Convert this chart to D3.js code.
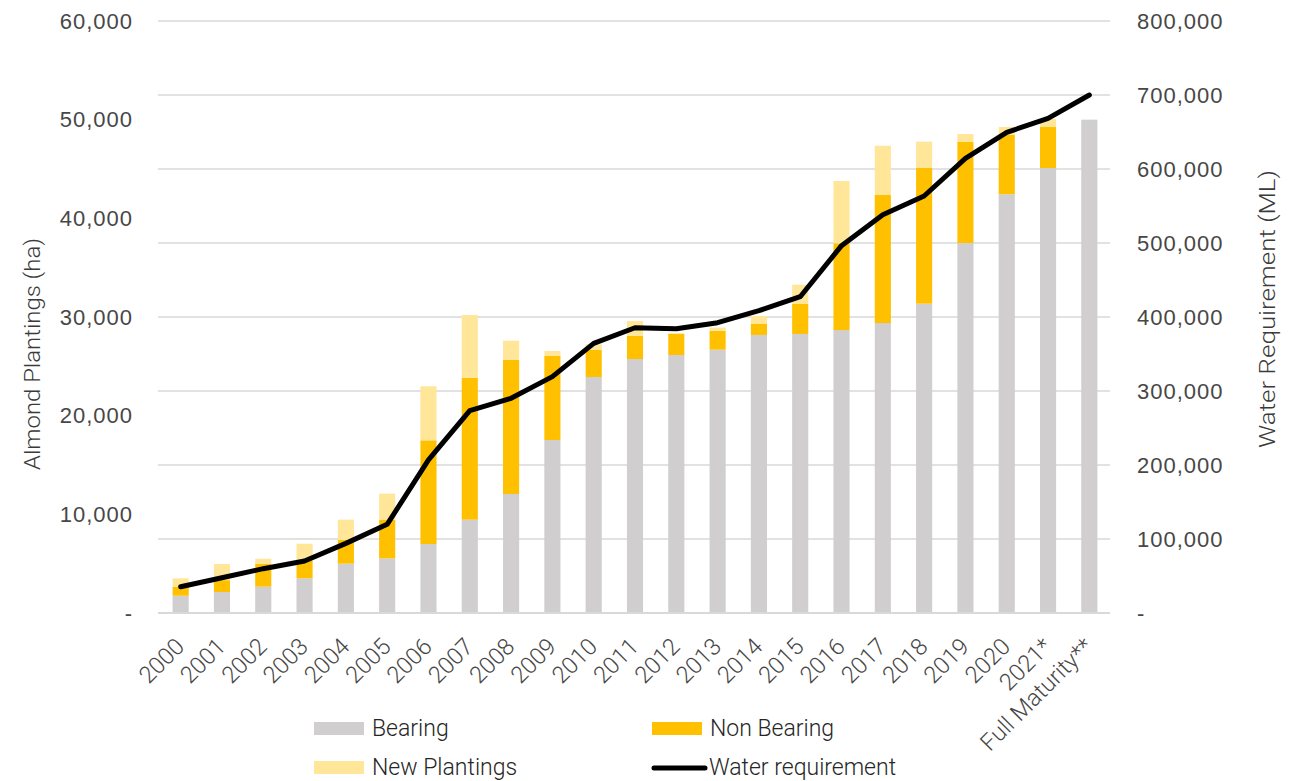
<!DOCTYPE html>
<html>
<head>
<meta charset="utf-8">
<script src="https://cdn.jsdelivr.net/npm/d3@7"></script>
<style>
  html, body { margin: 0; padding: 0; background: #ffffff; }
  svg { display: block; font-family: Roboto, "Open Sans", sans-serif; }
</style>
</head>
<body>
<svg id="chart" width="1301" height="781"></svg>
<script>
// Almond plantings by year (hectares) and annual water requirement (ML)
const categories = ["2000","2001","2002","2003","2004","2005","2006","2007","2008","2009","2010",
  "2011","2012","2013","2014","2015","2016","2017","2018","2019","2020","2021*","Full Maturity**"];
const bearing = [1750, 2130, 2670, 3520, 5000, 5540, 6990, 9460, 12060, 17530, 23920,
  25740, 26150, 26690, 28180, 28280, 28680, 29390, 31350, 37500, 42440, 45100, 50000];
const nonBearing = [910, 1200, 2300, 1750, 2400, 3885, 10510, 14390, 13610, 8520, 2770,
  2370, 2160, 1920, 1110, 3070, 8790, 12975, 13750, 10235, 6040, 4155, 0];
const newPlantings = [850, 1630, 530, 1750, 2060, 2670, 5475, 6350, 1930, 500, 540,
  1480, 0, 310, 810, 1925, 6310, 4995, 2670, 810, 775, 815, 0];
const waterRequirement = [35500, 47700, 59900, 70300, 94100, 119800, 206800, 273400, 290100, 319400, 364400,
  385500, 384200, 392300, 408500, 427400, 496400, 538200, 563500, 614400, 649500, 668500, 700000];

const leftTicks = [0, 10000, 20000, 30000, 40000, 50000, 60000];
const rightTicks = [0, 100000, 200000, 300000, 400000, 500000, 600000, 700000, 800000];

const seriesNames = ["Bearing", "Non Bearing", "New Plantings"];
const seriesKeys = ["bearing", "nonBearing", "newPlantings"];
const colors = { bearing: "#D0CECE", nonBearing: "#FFC000", newPlantings: "#FFE699" };

const rows = categories.map((c, i) => ({
  category: c,
  bearing: bearing[i],
  nonBearing: nonBearing[i],
  newPlantings: newPlantings[i],
  water: waterRequirement[i]
}));

const svg = d3.select("#chart");
const plot = { left: 160, right: 1110, top: 21, bottom: 613 };
const labelColor = "#474747";

const x = d3.scaleBand()
  .domain(categories)
  .range([plot.left, plot.right])
  .paddingInner(0.61)
  .paddingOuter(0.305);

const yLeft = d3.scaleLinear().domain([0, 60000]).range([plot.bottom, plot.top]);
const yRight = d3.scaleLinear().domain([0, 800000]).range([plot.bottom, plot.top]);

const fmt = v => v === 0 ? "-" : d3.format(",")(v);

// horizontal gridlines follow the right-hand axis
svg.append("g")
  .selectAll("line")
  .data(rightTicks.filter(t => t > 0))
  .join("line")
  .attr("x1", plot.left - 2)
  .attr("x2", plot.right)
  .attr("y1", d => yRight(d))
  .attr("y2", d => yRight(d))
  .attr("stroke", "#D9D9D9")
  .attr("stroke-width", 1.5);

// stacked bars
const stack = d3.stack().keys(seriesKeys);
const layers = stack(rows);

svg.append("g")
  .selectAll("g")
  .data(layers)
  .join("g")
  .attr("fill", d => colors[d.key])
  .selectAll("rect")
  .data(d => d)
  .join("rect")
  .attr("x", d => x(d.data.category))
  .attr("width", x.bandwidth())
  .attr("y", d => yLeft(d[1]))
  .attr("height", d => Math.max(0, yLeft(d[0]) - yLeft(d[1])));

// category axis baseline
svg.append("line")
  .attr("x1", plot.left - 2)
  .attr("x2", plot.right)
  .attr("y1", plot.bottom)
  .attr("y2", plot.bottom)
  .attr("stroke", "#D9D9D9")
  .attr("stroke-width", 2);

// water requirement line
const line = d3.line()
  .x(d => x(d.category) + x.bandwidth() / 2)
  .y(d => yRight(d.water));

svg.append("path")
  .datum(rows)
  .attr("d", line)
  .attr("fill", "none")
  .attr("stroke", "#000000")
  .attr("stroke-width", 5)
  .attr("stroke-linejoin", "round")
  .attr("stroke-linecap", "round");

// left axis
const leftAxis = d3.axisLeft(yLeft).tickValues(leftTicks).tickFormat(fmt).tickSize(0).tickPadding(0);
const gL = svg.append("g").attr("transform", "translate(133,0)").call(leftAxis);
gL.select(".domain").remove();
gL.selectAll("text")
  .attr("fill", labelColor)
  .style("font-size", "22px")
  .style("font-weight", 300)
  .style("letter-spacing", "1px");

// right axis
const rightAxis = d3.axisRight(yRight).tickValues(rightTicks).tickFormat(fmt).tickSize(0).tickPadding(0);
const gR = svg.append("g").attr("transform", "translate(1137,0)").call(rightAxis);
gR.select(".domain").remove();
gR.selectAll("text")
  .attr("fill", labelColor)
  .style("font-size", "22px")
  .style("font-weight", 300)
  .style("letter-spacing", "1px");

// rotated category labels
const gX = svg.append("g");
gX.selectAll("text")
  .data(categories)
  .join("text")
  .attr("transform", d => `translate(${x(d) + x.bandwidth() / 2 + 5},648) rotate(-45)`)
  .attr("text-anchor", "end")
  .attr("fill", labelColor)
  .style("font-size", "23.5px")
  .style("font-weight", 300)
  .text(d => d);

// axis titles
svg.append("text")
  .attr("transform", "translate(40,354) rotate(-90)")
  .attr("text-anchor", "middle")
  .attr("fill", "#3a3a3a")
  .attr("textLength", 232)
  .attr("lengthAdjust", "spacingAndGlyphs")
  .style("font-size", "22px")
  .style("font-weight", 300)
  .text("Almond Plantings (ha)");

svg.append("text")
  .attr("transform", "translate(1275,309) rotate(-90)")
  .attr("text-anchor", "middle")
  .attr("fill", "#3a3a3a")
  .attr("textLength", 278)
  .attr("lengthAdjust", "spacingAndGlyphs")
  .style("font-size", "22px")
  .style("font-weight", 300)
  .text("Water Requirement (ML)");

// legend
const legend = svg.append("g");
const legendItems = [
  { label: seriesNames[0], key: "bearing", x: 314, y: 729 },
  { label: seriesNames[1], key: "nonBearing", x: 652, y: 729 },
  { label: seriesNames[2], key: "newPlantings", x: 314, y: 768 },
  { label: "Water requirement", key: "water", x: 652, y: 768 }
];
legendItems.forEach(item => {
  if (item.key === "water") {
    legend.append("line")
      .attr("x1", item.x + 2).attr("x2", item.x + 53)
      .attr("y1", item.y).attr("y2", item.y)
      .attr("stroke", "#000").attr("stroke-width", 5)
      .attr("stroke-linecap", "round");
  } else {
    legend.append("rect")
      .attr("x", item.x).attr("y", item.y - 7)
      .attr("width", 50).attr("height", 13)
      .attr("fill", colors[item.key]);
  }
  legend.append("text")
    .attr("x", item.x + (item.key === "water" ? 57 : 58))
    .attr("y", item.y)
    .attr("dy", "0.32em")
    .attr("fill", "#262626")
    .style("font-size", "23px")
    .style("font-weight", 300)
    .text(item.label);
});
</script>
</body>
</html>
